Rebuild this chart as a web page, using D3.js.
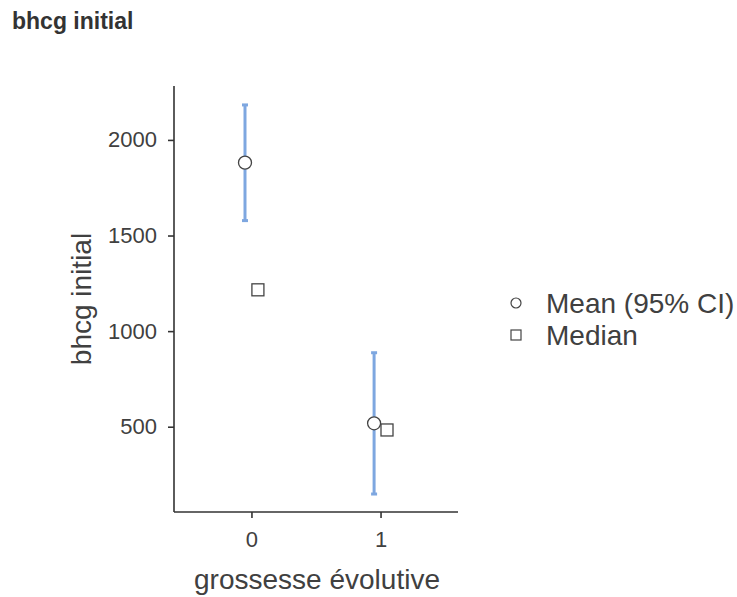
<!DOCTYPE html>
<html>
<head>
<meta charset="utf-8">
<script src="https://cdn.jsdelivr.net/npm/d3@7"></script>
<style>
  body { margin: 0; background: #fff; }
  svg { display: block; font-family: Arial, "Liberation Sans", sans-serif; }
</style>
</head>
<body>
<svg id="chart" width="737" height="597"></svg>
<script>
const groups = [0, 1];
const meanValues = [1881, 518];
const ciLower = [1578, 148];
const ciUpper = [2183, 887];
const medianValues = [1216, 483];
const yTicks = [500, 1000, 1500, 2000];
const legendLabels = ["Mean (95% CI)", "Median"];

const svg = d3.select("#chart");
const pLeft = 174, pRight = 458, pTop = 86, pBottom = 512;

const x = d3.scaleLinear().domain([-0.6, 1.6]).range([pLeft, pRight]);
const y = d3.scaleLinear().domain([54, 2282]).range([pBottom, pTop]);

const textColor = "#404040";
const axisColor = "#333";
const ciColor = "#7ea7e0";

// title
svg.append("text").attr("x", 12).attr("y", 29)
  .attr("font-size", 23).attr("font-weight", "bold").attr("fill", "#333")
  .text("bhcg initial");

// axes
const yAxis = svg.append("g").attr("transform", `translate(${pLeft},0)`)
  .call(d3.axisLeft(y).tickValues(yTicks).tickSize(6).tickPadding(11).tickFormat(d3.format("d")));
const xAxis = svg.append("g").attr("transform", `translate(0,${pBottom})`)
  .call(d3.axisBottom(x).tickValues(groups).tickSize(6).tickPadding(13).tickFormat(d3.format("d")));
[yAxis, xAxis].forEach(g => {
  g.select(".domain").attr("stroke", axisColor).attr("stroke-width", 1.6);
  g.selectAll(".tick line").attr("stroke", axisColor).attr("stroke-width", 1.6);
  g.selectAll(".tick text").attr("fill", textColor).attr("font-size", 22)
    .attr("font-family", 'Arial, "Liberation Sans", sans-serif');
});
yAxis.select(".domain").attr("d", `M0,${pTop}V${pBottom}`);
xAxis.select(".domain").attr("d", `M${pLeft},0H${pRight}`);

// axis titles
svg.append("text").attr("x", (pLeft + pRight) / 2 + 1).attr("y", 589)
  .attr("text-anchor", "middle").attr("font-size", 28).attr("fill", textColor)
  .text("grossesse évolutive");
svg.append("text").attr("transform", `translate(91,${(pTop + pBottom) / 2}) rotate(-90)`)
  .attr("text-anchor", "middle").attr("font-size", 28).attr("fill", textColor)
  .text("bhcg initial");

const off = 0.05;
const plot = svg.append("g");
// CI bars
groups.forEach((g, i) => {
  const cx = x(g - off);
  plot.append("line").attr("x1", cx).attr("x2", cx)
    .attr("y1", y(ciLower[i])).attr("y2", y(ciUpper[i]))
    .attr("stroke", ciColor).attr("stroke-width", 3);
  [ciLower[i], ciUpper[i]].forEach(v => {
    plot.append("line").attr("x1", cx - 3).attr("x2", cx + 3)
      .attr("y1", y(v)).attr("y2", y(v))
      .attr("stroke", ciColor).attr("stroke-width", 3);
  });
});
// medians
groups.forEach((g, i) => {
  plot.append("rect").attr("x", x(g + off) - 6).attr("y", y(medianValues[i]) - 6)
    .attr("width", 12).attr("height", 12)
    .attr("fill", "#fff").attr("stroke", "#444").attr("stroke-width", 1.3);
});
// means
groups.forEach((g, i) => {
  plot.append("circle").attr("cx", x(g - off)).attr("cy", y(meanValues[i])).attr("r", 6.5)
    .attr("fill", "#fff").attr("stroke", "#444").attr("stroke-width", 1.3);
});

// legend
const lg = svg.append("g");
lg.append("circle").attr("cx", 516).attr("cy", 303).attr("r", 5)
  .attr("fill", "#fff").attr("stroke", "#444").attr("stroke-width", 1.2);
lg.append("rect").attr("x", 511).attr("y", 330).attr("width", 10).attr("height", 10)
  .attr("fill", "#fff").attr("stroke", "#444").attr("stroke-width", 1.2);
legendLabels.forEach((t, i) => {
  lg.append("text").attr("x", 546).attr("y", 313 + i * 32)
    .attr("font-size", 28).attr("fill", textColor).text(t);
});
</script>
</body>
</html>
